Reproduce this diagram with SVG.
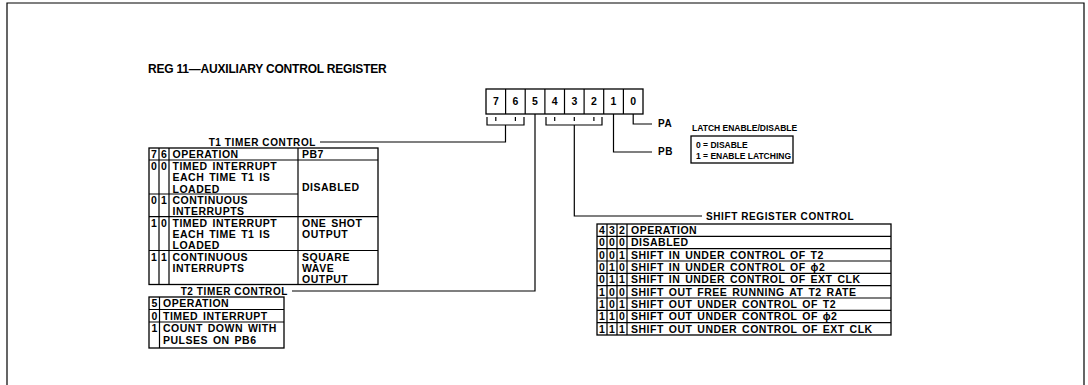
<svg xmlns="http://www.w3.org/2000/svg" width="1088" height="385" viewBox="0 0 1088 385">
<style>
.ln{fill:none;stroke:#000;stroke-width:1.2}
.bx{fill:none;stroke:#000;stroke-width:1.3}
.t{font-family:"Liberation Sans",Arial,sans-serif;font-size:10.5px;font-weight:bold;letter-spacing:0.5px;word-spacing:1.5px;fill:#000}
.l{font-family:"Liberation Sans",Arial,sans-serif;font-size:10px;font-weight:bold;letter-spacing:0.6px;fill:#000}
.s{font-family:"Liberation Sans",Arial,sans-serif;font-size:8.5px;font-weight:bold;fill:#000}
.c{text-anchor:middle;letter-spacing:0}
.e{text-anchor:end}
.title{font-family:"Liberation Sans",Arial,sans-serif;font-size:12px;font-weight:bold;letter-spacing:-0.2px;fill:#000}
</style>
<rect width="1088" height="385" fill="#fff"/>
<path class="ln" d="M7,390 V3 H1084 V390"/>
<text id="title" class="title" x="148" y="73">REG 11—AUXILIARY CONTROL REGISTER</text>

<g id="register">
  <rect class="bx" x="486" y="89" width="157" height="25"/>
  <path class="ln" d="M505.6,89V114M525.2,89V114M544.9,89V114M564.5,89V114M584.1,89V114M603.7,89V114M623.4,89V114"/>
  <text class="t c" x="495.8" y="105">7</text>
  <text class="t c" x="515.4" y="105">6</text>
  <text class="t c" x="535" y="105">5</text>
  <text class="t c" x="554.7" y="105">4</text>
  <text class="t c" x="574.3" y="105">3</text>
  <text class="t c" x="593.9" y="105">2</text>
  <text class="t c" x="613.5" y="105">1</text>
  <text class="t c" x="633.2" y="105">0</text>
</g>

<g id="connectors">
  <path class="ln" d="M487,117V125H524V117M495.8,117V121M515.4,117V121"/>
  <path class="ln" d="M505.5,125V142H320"/>
  <path class="ln" d="M535,114V291H292"/>
  <path class="ln" d="M546,117V125H602V117M554.7,117V121M574.3,117V121M593.9,117V121"/>
  <path class="ln" d="M574.3,125V216H702"/>
  <path class="ln" d="M613.5,114V152H652"/>
  <path class="ln" d="M633.2,114V124H652"/>
</g>

<g id="latch">
  <text class="l" x="658" y="127">PA</text>
  <text class="l" x="658" y="155">PB</text>
  <text class="s" x="692" y="131">LATCH ENABLE/DISABLE</text>
  <rect class="bx" x="691" y="136" width="102" height="27"/>
  <text class="s" x="696" y="147.5">0 = DISABLE</text>
  <text class="s" x="696" y="158.5">1 = ENABLE LATCHING</text>
</g>

<g id="t1">
  <text class="l e" x="316" y="145.5">T1 TIMER CONTROL</text>
  <rect class="bx" x="149" y="148" width="229" height="136.5"/>
  <path class="ln" d="M159,148V284.5M169,148V284.5M298,148V284.5M149,160H378M149,194H298M149,216.6H378M149,250.5H378"/>
  <text class="t c" x="154" y="158">7</text><text class="t c" x="164" y="158">6</text>
  <text class="t" x="172.5" y="158">OPERATION</text><text class="t" x="302" y="158">PB7</text>
  <text class="t c" x="154" y="170">0</text><text class="t c" x="164" y="170">0</text>
  <text class="t" x="172.5" y="170">TIMED INTERRUPT</text>
  <text class="t" x="172.5" y="181.3">EACH TIME T1 IS</text>
  <text class="t" x="172.5" y="192.6">LOADED</text>
  <text class="t" x="302" y="191">DISABLED</text>
  <text class="t c" x="154" y="204">0</text><text class="t c" x="164" y="204">1</text>
  <text class="t" x="172.5" y="204">CONTINUOUS</text>
  <text class="t" x="172.5" y="215.3">INTERRUPTS</text>
  <text class="t c" x="154" y="226.6">1</text><text class="t c" x="164" y="226.6">0</text>
  <text class="t" x="172.5" y="226.6">TIMED INTERRUPT</text>
  <text class="t" x="172.5" y="237.9">EACH TIME T1 IS</text>
  <text class="t" x="172.5" y="249.2">LOADED</text>
  <text class="t" x="302" y="226.6">ONE SHOT</text>
  <text class="t" x="302" y="237.9">OUTPUT</text>
  <text class="t c" x="154" y="260.5">1</text><text class="t c" x="164" y="260.5">1</text>
  <text class="t" x="172.5" y="260.5">CONTINUOUS</text>
  <text class="t" x="172.5" y="271.8">INTERRUPTS</text>
  <text class="t" x="302" y="260.5">SQUARE</text>
  <text class="t" x="302" y="271.8">WAVE</text>
  <text class="t" x="302" y="283">OUTPUT</text>
</g>

<g id="t2">
  <text class="l e" x="288" y="294.5">T2 TIMER CONTROL</text>
  <rect class="bx" x="149" y="297" width="135" height="51"/>
  <path class="ln" d="M159.5,297V348M149,309.5H284M149,322H284"/>
  <text class="t c" x="154.3" y="307">5</text><text class="t" x="163" y="307">OPERATION</text>
  <text class="t c" x="154.3" y="319.5">0</text><text class="t" x="163" y="319.5">TIMED INTERRUPT</text>
  <text class="t c" x="154.3" y="332">1</text><text class="t" x="163" y="332">COUNT DOWN WITH</text>
  <text class="t" x="163" y="344">PULSES ON PB6</text>
</g>

<g id="shift">
  <text class="l" x="706" y="220">SHIFT REGISTER CONTROL</text>
  <rect class="bx" x="597" y="224" width="294" height="111"/>
  <path class="ln" d="M607,224V335M617,224V335M627,224V335M597,236.3H891M597,248.7H891M597,261H891M597,273.3H891M597,285.7H891M597,298H891M597,310.3H891M597,322.7H891"/>
  <text class="t c" x="602" y="234">4</text><text class="t c" x="612" y="234">3</text><text class="t c" x="622" y="234">2</text><text class="t" x="631" y="234">OPERATION</text>
  <text class="t c" x="602" y="246.3">0</text><text class="t c" x="612" y="246.3">0</text><text class="t c" x="622" y="246.3">0</text><text class="t" x="631" y="246.3">DISABLED</text>
  <text class="t c" x="602" y="258.7">0</text><text class="t c" x="612" y="258.7">0</text><text class="t c" x="622" y="258.7">1</text><text class="t" x="631" y="258.7">SHIFT IN UNDER CONTROL OF T2</text>
  <text class="t c" x="602" y="271">0</text><text class="t c" x="612" y="271">1</text><text class="t c" x="622" y="271">0</text><text class="t" x="631" y="271">SHIFT IN UNDER CONTROL OF ϕ2</text>
  <text class="t c" x="602" y="283.3">0</text><text class="t c" x="612" y="283.3">1</text><text class="t c" x="622" y="283.3">1</text><text class="t" x="631" y="283.3">SHIFT IN UNDER CONTROL OF EXT CLK</text>
  <text class="t c" x="602" y="295.7">1</text><text class="t c" x="612" y="295.7">0</text><text class="t c" x="622" y="295.7">0</text><text class="t" x="631" y="295.7">SHIFT OUT FREE RUNNING AT T2 RATE</text>
  <text class="t c" x="602" y="308">1</text><text class="t c" x="612" y="308">0</text><text class="t c" x="622" y="308">1</text><text class="t" x="631" y="308">SHIFT OUT UNDER CONTROL OF T2</text>
  <text class="t c" x="602" y="320.3">1</text><text class="t c" x="612" y="320.3">1</text><text class="t c" x="622" y="320.3">0</text><text class="t" x="631" y="320.3">SHIFT OUT UNDER CONTROL OF ϕ2</text>
  <text class="t c" x="602" y="332.7">1</text><text class="t c" x="612" y="332.7">1</text><text class="t c" x="622" y="332.7">1</text><text class="t" x="631" y="332.7">SHIFT OUT UNDER CONTROL OF EXT CLK</text>
</g>
</svg>
